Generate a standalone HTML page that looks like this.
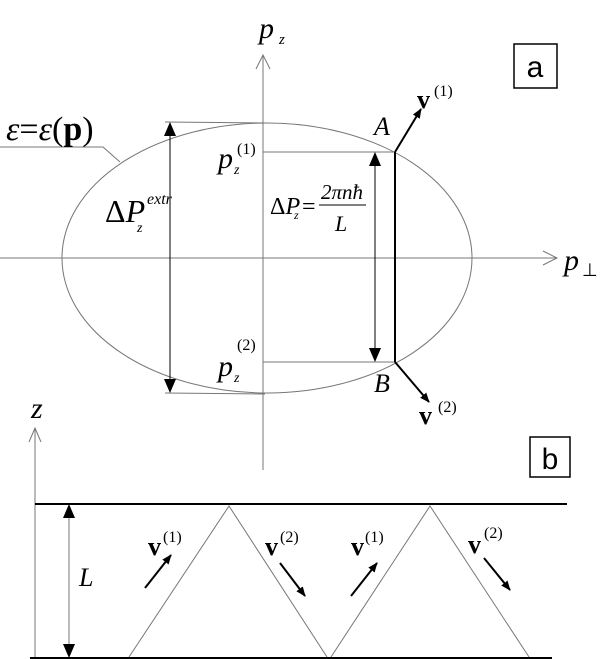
<!DOCTYPE html>
<html><head><meta charset="utf-8"><style>
html,body{margin:0;padding:0;background:#fff}
svg{display:block}
text{font-family:"Liberation Serif",serif;fill:#000}
.s{font-family:"Liberation Sans",sans-serif}
</style></head><body>
<svg width="600" height="659" viewBox="0 0 600 659" xmlns="http://www.w3.org/2000/svg">
<defs>
<marker id="ah" markerWidth="10" markerHeight="10" refX="9" refY="5" orient="auto" markerUnits="userSpaceOnUse">
<path d="M0,1 L10,5 L0,9 Z" fill="#000"/></marker>
</defs>
<g stroke="#777" stroke-width="1" fill="none">
<line x1="263" y1="55" x2="263" y2="470"/>
<polyline points="256,69 263,55 270,69"/>
<line x1="0" y1="258" x2="557" y2="258"/>
<polyline points="543,251 557,258 543,265"/>
<ellipse cx="267" cy="258" rx="205" ry="135"/>
<line x1="263" y1="152" x2="395" y2="152"/>
<line x1="263" y1="362" x2="395" y2="362"/>
<line x1="165" y1="122" x2="265" y2="123"/>
<line x1="165" y1="393" x2="265" y2="394"/>
<polyline points="0,147 103,147 120,162"/>
<line x1="35" y1="428" x2="35" y2="658"/>
<polyline points="29,442 35,428 41,442"/>
<polyline points="129,657 229,506 327,657"/>
<polyline points="331,657 430,506 529,657"/>
</g>
<g stroke="#000" stroke-width="1">
<line x1="170" y1="130" x2="170" y2="385"/>
<line x1="375" y1="160" x2="375" y2="354"/>
<line x1="69" y1="512" x2="69" y2="650" stroke="#777"/>
</g>
<g fill="#000">
<path d="M164,136 L170,122 L176,136Z"/><path d="M164,379 L170,393 L176,379Z"/>
<path d="M369,166 L375,152 L381,166Z"/><path d="M369,348 L375,362 L381,348Z"/>
<path d="M63,518 L69,504 L75,518Z"/><path d="M63,644 L69,658 L75,644Z"/>
</g>
<line x1="395" y1="152" x2="395" y2="362" stroke="#000" stroke-width="2"/>
<line x1="35" y1="504" x2="567" y2="504" stroke="#000" stroke-width="2"/>
<line x1="30" y1="658" x2="552" y2="658" stroke="#000" stroke-width="2"/>
<g stroke="#000" stroke-width="2" marker-end="url(#ah)">
<line x1="395" y1="152" x2="421" y2="109"/>
<line x1="395" y1="362" x2="429" y2="402"/>
<line x1="145" y1="588" x2="171" y2="555"/>
<line x1="280" y1="563" x2="305" y2="596"/>
<line x1="351" y1="596" x2="377" y2="563"/>
<line x1="484" y1="558" x2="510" y2="590"/>
</g>
<rect x="514" y="44" width="43" height="44" fill="none" stroke="#000" stroke-width="1.5"/>
<text x="535" y="77" class="s" font-size="30" text-anchor="middle">a</text>
<rect x="530" y="437" width="40" height="40" fill="none" stroke="#000" stroke-width="1.5"/>
<text x="550" y="469" class="s" font-size="30" text-anchor="middle">b</text>
<text x="259" y="38" font-size="30" font-style="italic">p</text><text x="279" y="44" font-size="15" font-style="italic">z</text>
<text x="564" y="270" font-size="30" font-style="italic">p</text><text x="582" y="276" font-size="18">⊥</text>
<text x="6" y="140" font-size="34"><tspan font-style="italic">ε</tspan>=<tspan font-style="italic">ε</tspan>(<tspan font-weight="bold">p</tspan>)</text>
<text x="105" y="222" font-size="32">Δ<tspan font-style="italic">P</tspan></text><text x="147" y="204" font-size="16" font-style="italic">extr</text><text x="137" y="232" font-size="14" font-style="italic">z</text>
<text x="218" y="168" font-size="30" font-style="italic">p</text><text x="237" y="154" font-size="16">(1)</text><text x="234" y="174" font-size="14" font-style="italic">z</text>
<text x="218" y="376" font-size="30" font-style="italic">p</text><text x="237" y="350" font-size="16">(2)</text><text x="234" y="382" font-size="14" font-style="italic">z</text>
<text x="270" y="214" font-size="24">Δ<tspan font-style="italic">P</tspan></text><text x="294" y="219" font-size="12" font-style="italic">z</text>
<text x="302" y="214" font-size="24">=</text>
<text x="321" y="199" font-size="21" font-style="italic">2πnħ</text>
<line x1="319" y1="205" x2="366" y2="205" stroke="#000"/>
<text x="335" y="231" font-size="22" font-style="italic">L</text>
<text x="374" y="135" font-size="26" font-style="italic">A</text>
<text x="374" y="392" font-size="26" font-style="italic">B</text>
<text x="417" y="108" font-size="26" font-weight="bold">v</text><text x="434" y="96" font-size="16">(1)</text>
<text x="419" y="424" font-size="26" font-weight="bold">v</text><text x="438" y="412" font-size="16">(2)</text>
<text x="31" y="418" font-size="30" font-style="italic">z</text>
<text x="79" y="586" font-size="26" font-style="italic">L</text>
<g font-size="26"><text x="148" y="555" font-weight="bold">v</text><text x="265" y="555" font-weight="bold">v</text><text x="351" y="555" font-weight="bold">v</text><text x="468" y="553" font-weight="bold">v</text></g>
<g font-size="16"><text x="163" y="542">(1)</text><text x="280" y="542">(2)</text><text x="365" y="542">(1)</text><text x="484" y="538">(2)</text></g>
</svg>
</body></html>
